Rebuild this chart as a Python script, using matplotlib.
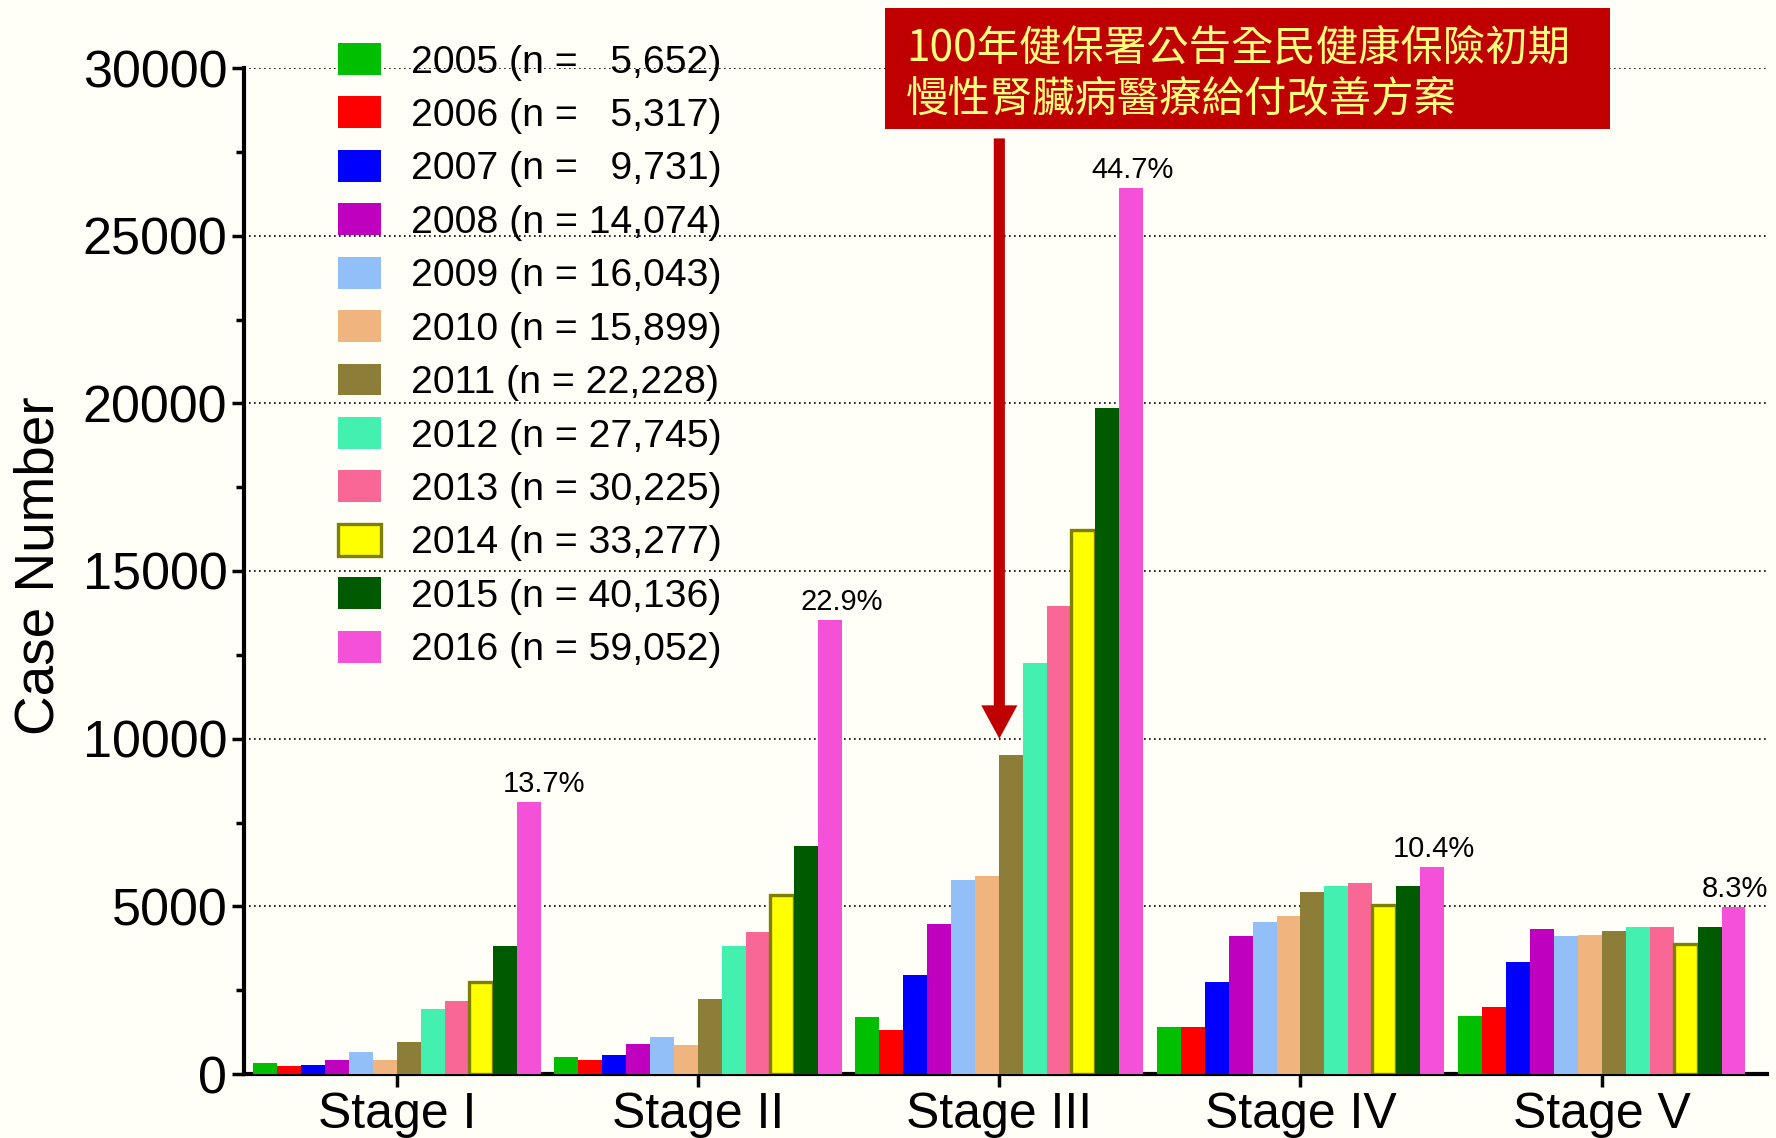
import matplotlib
matplotlib.use("Agg")
import matplotlib.pyplot as plt
import numpy as np
from matplotlib.patches import Rectangle, Patch

plt.rcParams['font.family'] = ['Liberation Sans', 'DejaVu Sans']

stages = ["Stage I", "Stage II", "Stage III", "Stage IV", "Stage V"]
years = ["2005", "2006", "2007", "2008", "2009", "2010",
         "2011", "2012", "2013", "2014", "2015", "2016"]
totals = ["  5,652", "  5,317", "  9,731", "14,074", "16,043", "15,899",
          "22,228", "27,745", "30,225", "33,277", "40,136", "59,052"]
colors = ["#00BF00", "#FF0000", "#0000FF", "#BF00BF", "#92BFF7", "#F0B57E",
          "#8C7D38", "#43F0B0", "#F86795", "#FFFF00", "#005A00", "#F550D8"]

# values[year][stage]
v2005 = [330, 520, 1690, 1400, 1740]
v2006 = [240, 410, 1320, 1400, 2010]
v2007 = [280, 560, 2940, 2750, 3340]
v2008 = [420, 900, 4480, 4130, 4310]
v2009 = [660, 1100, 5800, 4520, 4110]
v2010 = [420, 860, 5910, 4710, 4160]
v2011 = [960, 2240, 9510, 5440, 4260]
v2012 = [1940, 3810, 12260, 5620, 4370]
v2013 = [2190, 4240, 13970, 5690, 4390]
v2014 = [2740, 5340, 16230, 5030, 3870]
v2015 = [3810, 6800, 19860, 5600, 4390]
v2016 = [8110, 13540, 26420, 6180, 4980]
values = [v2005, v2006, v2007, v2008, v2009, v2010,
          v2011, v2012, v2013, v2014, v2015, v2016]
pct_labels = ["13.7%", "22.9%", "44.7%", "10.4%", "8.3%"]
pct_dx = [0.05, 0.04, 0.005, 0.005, 0.005]

note = "100年健保署公告全民健康保險初期\n慢性腎臟病醫療給付改善方案"

W, H = 1776, 1138
fig = plt.figure(figsize=(W / 100, H / 100), dpi=100)
fig.patch.set_facecolor("#FFFFF8")
ax = fig.add_axes([244 / W, 1 - 1074 / H, (1767 - 244) / W, (1074 - 68) / H])
ax.set_facecolor("#FFFFF8")

x = np.arange(len(stages))
w = 0.0796
for j, (yr, vals, c) in enumerate(zip(years, values, colors)):
    pos = x + (j - 5.5) * w
    if yr == "2014":
        ax.bar(pos, vals, width=w, color=c, edgecolor="#808000", linewidth=2.4,
               zorder=3)
    else:
        ax.bar(pos, vals, width=w, color=c, linewidth=0, zorder=3)

pink_pos = x + 5.5 * w
for i, lab in enumerate(pct_labels):
    ax.annotate(lab, xy=(pink_pos[i] + pct_dx[i], v2016[i]), xytext=(0, 7),
                textcoords="offset points", ha="center", va="baseline",
                fontsize=21, annotation_clip=False)

ax.set_xlim(-0.508, 4.549)
ax.set_ylim(0, 30000)
ax.set_yticks(np.arange(0, 30001, 5000))
ax.set_yticks(np.arange(2500, 30000, 5000), minor=True)
ax.set_xticks(x)
ax.set_xticklabels(stages, fontsize=36)
ax.tick_params(axis="y", which="major", labelsize=37.5, length=9, width=2.5, pad=3)
ax.tick_params(axis="y", which="minor", length=6, width=2.5)
ax.tick_params(axis="x", which="major", length=9, width=2.5, pad=4)
for s in ["top", "right"]:
    ax.spines[s].set_visible(False)
for s in ["left", "bottom"]:
    ax.spines[s].set_linewidth(3)
for yv in np.arange(5000, 30001, 5000):
    ax.axhline(yv, color="black", lw=1.2, ls=(0, (1, 2)), zorder=1)
ax.set_ylabel("Case Number", fontsize=39.5)
ax.yaxis.set_label_coords(-0.117, 0.505)

handles = []
for yr, c in zip(years, colors):
    if yr == "2014":
        handles.append(Patch(facecolor=c, edgecolor="#808000", linewidth=2.4))
    else:
        handles.append(Patch(facecolor=c, edgecolor="none"))
labels = [f"{yr} (n = {t})" for yr, t in zip(years, totals)]
fig.legend(handles, labels, loc="upper left", bbox_to_anchor=(338 / W, 1 - 43 / H),
           bbox_transform=fig.transFigure, frameon=False, fontsize=28.3,
           handlelength=1.1, handleheight=0.87, handletextpad=0.75,
           labelspacing=0.405, borderpad=0, borderaxespad=0)

# Annotation box
fig.patches.append(Rectangle((885 / W, 1 - 129 / H), 725 / W, 121 / H,
                             transform=fig.transFigure, facecolor="#C00000",
                             edgecolor="none", zorder=5))
fig.text(906 / W, 1 - 75 / H, note, fontsize=30.5, color="#FFFF7F",
         family=["Noto Sans CJK TC", "DejaVu Sans"], va="center", ha="left",
         linespacing=1.2, zorder=6)

ax.annotate("", xy=(2.0, 10000), xytext=(2.0, 27900),
            arrowprops=dict(arrowstyle="simple,head_width=1.3,head_length=1.2,tail_width=0.4",
                            mutation_scale=20, color="#C00000", lw=0,
                            shrinkA=0, shrinkB=0),
            annotation_clip=False, zorder=6)

fig.savefig("out.png", dpi=100, facecolor=fig.get_facecolor())
